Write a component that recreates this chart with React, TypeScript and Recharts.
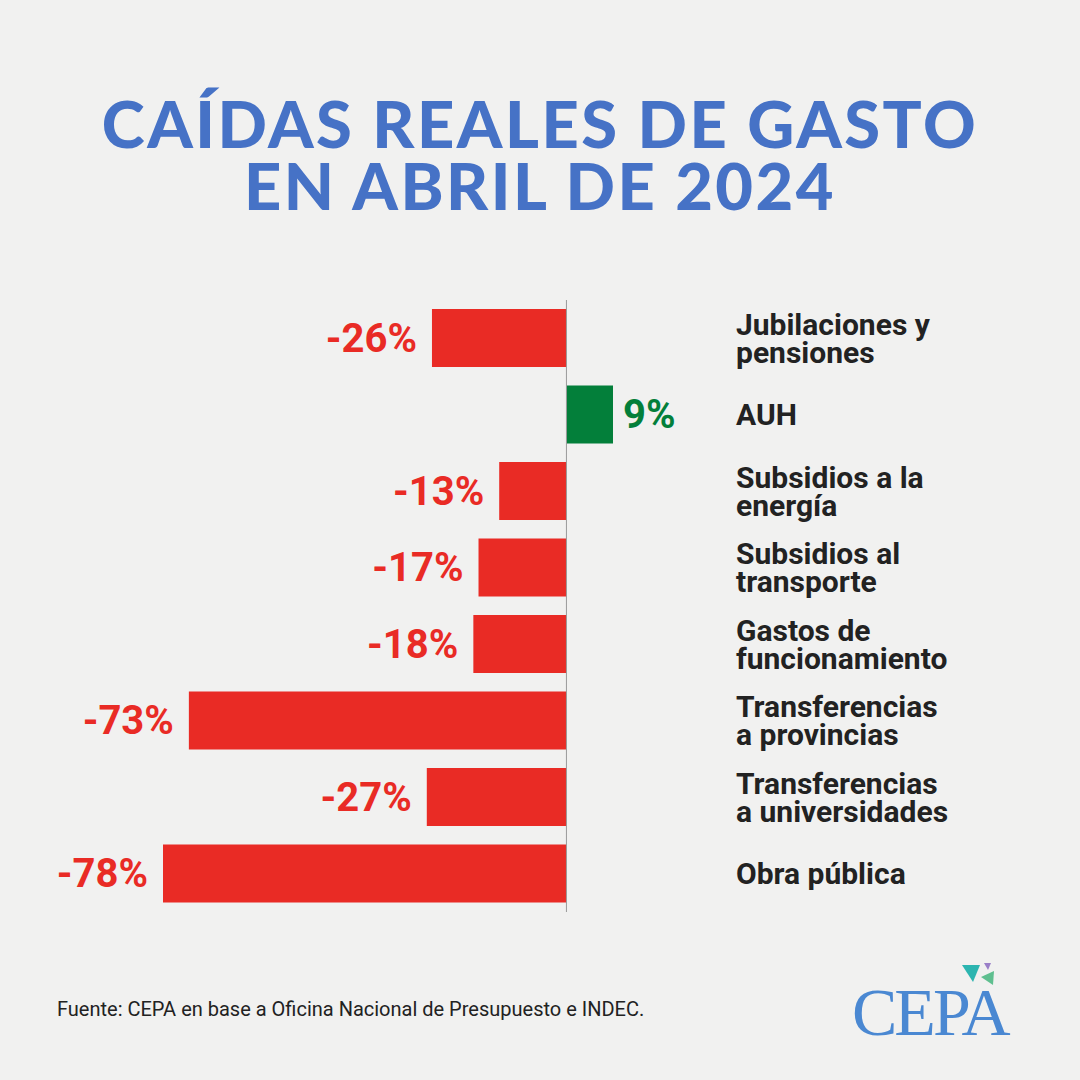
import { BarChart, Bar, XAxis, YAxis, Cell, LabelList, ReferenceLine } from 'recharts'

const TITLE_LINES = ['CAÍDAS REALES DE GASTO', 'EN ABRIL DE 2024']
const CATEGORIES = [
  'Jubilaciones y|pensiones',
  'AUH',
  'Subsidios a la|energía',
  'Subsidios al|transporte',
  'Gastos de|funcionamiento',
  'Transferencias|a provincias',
  'Transferencias|a universidades',
  'Obra pública',
]
const VALUES = [-26, 9, -13, -17, -18, -73, -27, -78]

const RED = '#e92b25'
const GREEN = '#037f3a'
const TITLE_BLUE = '#4672c6'

const data = CATEGORIES.map((name, i) => ({ name, value: VALUES[i] }))

function CategoryTick(props: any) {
  const { x, y, payload } = props
  const lines = String(payload.value).split('|')
  const lh = 28
  const y0 = y - ((lines.length - 1) * lh) / 2
  return (
    <g>
      {lines.map((l, i) => (
        <text key={i} x={x} y={y0 + i * lh} textAnchor="start" dominantBaseline="central"
          fill="#222" fontFamily="Roboto" fontWeight={700} fontSize={30}>
          {l}
        </text>
      ))}
    </g>
  )
}

function ValueLabel(props: any) {
  const { x, y, width, height, value } = props
  const left = Math.min(x, x + width)
  const right = Math.max(x, x + width)
  const neg = value < 0
  return (
    <text
      x={neg ? left - 15 : right + 10}
      y={y + height / 2}
      textAnchor={neg ? 'end' : 'start'}
      dominantBaseline="central"
      fill={neg ? RED : GREEN}
      fontFamily="Roboto"
      fontWeight={700}
      fontSize={40}
    >
      {`${value}%`}
    </text>
  )
}

export default function App() {
  return (
    <div style={{ position: 'absolute', left: 0, top: 0, width: 1080, height: 1080, background: '#f1f1f0', overflow: 'hidden' }}>
      {TITLE_LINES.map((t, i) => (
        <div key={i} style={{
          position: 'absolute', top: 92 + i * 62, left: 0, width: 1080, height: 62, textAlign: 'center',
          fontFamily: 'Lato', fontWeight: 900, fontSize: 65, lineHeight: '62px', letterSpacing: 2.5, color: TITLE_BLUE,
        }}>
          {t}
        </div>
      ))}

      <div style={{ position: 'absolute', left: 0, top: 300 }}>
        <BarChart
          width={1080}
          height={612}
          layout="vertical"
          data={data}
          margin={{ top: 0, right: 0, bottom: 0, left: 163 }}
        >
          <XAxis type="number" domain={[-78, 9]} hide />
          <YAxis
            type="category"
            dataKey="name"
            orientation="right"
            width={467}
            axisLine={false}
            tickLine={false}
            tickSize={0}
            tickMargin={123}
            interval={0}
            tick={<CategoryTick />}
          />
          <ReferenceLine x={0} stroke="#9a9a9a" strokeWidth={1} />
          <Bar dataKey="value" barSize={58} isAnimationActive={false}>
            {data.map((d, i) => (
              <Cell key={i} fill={d.value < 0 ? RED : GREEN} />
            ))}
            <LabelList dataKey="value" content={<ValueLabel />} />
          </Bar>
        </BarChart>
      </div>

      <div style={{ position: 'absolute', left: 57, top: 997, fontFamily: 'Roboto', fontSize: 20, color: '#222' }}>
        Fuente: CEPA en base a Oficina Nacional de Presupuesto e INDEC.
      </div>

      <svg style={{ position: 'absolute', left: 840, top: 955 }} width={220} height={100}>
        <polygon points="122,10 140,10 133,27" fill="#2cb5b0" />
        <polygon points="144,8 151,8 148,15" fill="#9a7fc8" />
        <polygon points="141,22 154,16 153,30" fill="#5fbf8f" />
        <text x={12} y={80} fontFamily="Liberation Serif" fontSize={68} fill="#4a88d2" letterSpacing={-3}>CEPA</text>
      </svg>
    </div>
  )
}
